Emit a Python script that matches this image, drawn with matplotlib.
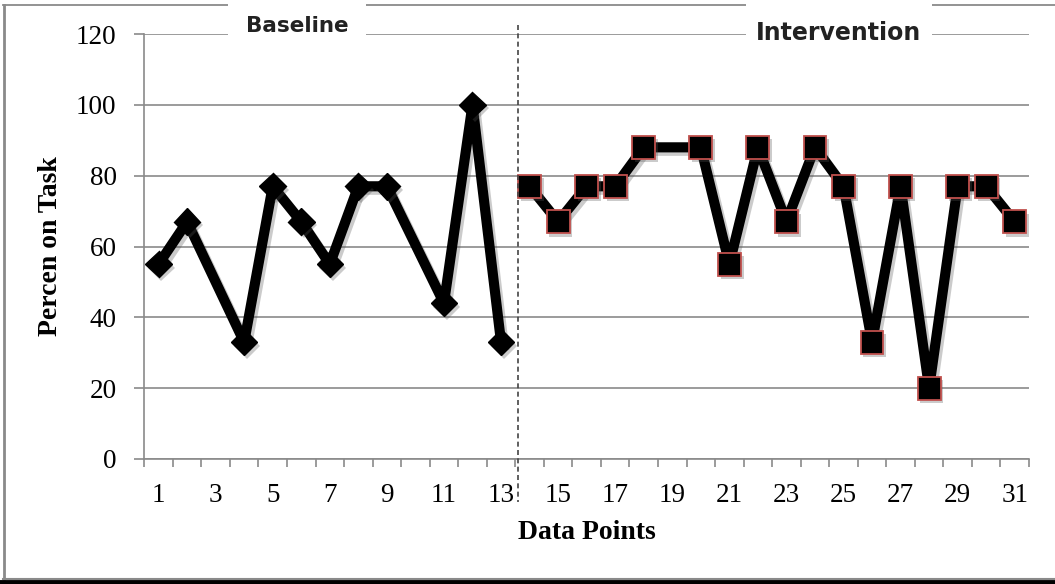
import matplotlib.pyplot as plt
import matplotlib.patheffects as pe
from matplotlib.lines import Line2D
from matplotlib.patches import Rectangle
from matplotlib.transforms import blended_transform_factory

# session numbers and percent of intervals on task
baseline_sessions = [1, 2, 4, 5, 6, 7, 8, 9, 11, 12, 13]
baseline_pct = [55, 67, 33, 77, 67, 55, 77, 77, 44, 100, 33]
intervention_sessions = [14, 15, 16, 17, 18, 20, 21, 22, 23, 24, 25, 26, 27, 28, 29, 30, 31]
intervention_pct = [77, 67, 77, 77, 88, 88, 55, 88, 67, 88, 77, 33, 77, 20, 77, 77, 67]

n_points = 31
x_labels = list(range(1, n_points + 1, 2))
y_ticks = [0, 20, 40, 60, 80, 100, 120]
phase_change = 13.58
phase_names = ['Baseline', 'Intervention']

W, H = 1055, 584
GREY = '#8a8a8a'


def fig_xy(x, y):
    # pixel position (from top-left) -> figure fraction
    return x / W, 1 - y / H


fig = plt.figure(figsize=(W / 100, H / 100), dpi=100)
ax = fig.add_axes([144.3 / W, 1 - 459 / H, (1029 - 144.3) / W, (459 - 34) / H])

ax.set_xlim(0.5, n_points + 0.5)
ax.set_ylim(0, 120)

# gridlines and axes
ax.set_yticks(y_ticks)
ax.yaxis.grid(True, color=GREY, lw=1.2)
ax.set_axisbelow(True)
for side in ['top', 'right']:
    ax.spines[side].set_visible(False)
for side in ['left', 'bottom']:
    ax.spines[side].set_color(GREY)
    ax.spines[side].set_linewidth(1.2)

ax.set_xticks(x_labels)
ax.set_xticks([i + 0.5 for i in range(0, n_points + 1)], minor=True)
ax.tick_params(axis='x', which='major', length=0, pad=17)
ax.tick_params(axis='x', which='minor', length=6, width=1.2, color=GREY, direction='out')
ax.tick_params(axis='y', length=7, width=1.2, color=GREY, pad=13)
for lab in ax.get_xticklabels() + ax.get_yticklabels():
    lab.set_fontfamily('Liberation Serif')
    lab.set_fontsize(19.5)

ax.set_xlabel('Data Points', fontfamily='Liberation Serif', fontsize=20, fontweight='bold')
ax.set_ylabel('Percen on Task', fontfamily='Liberation Serif', fontsize=20, fontweight='bold')
ax.xaxis.set_label_coords(0.5, -0.172)
ax.xaxis.label.set_va('center')
ax.yaxis.set_label_coords(-0.106, 0.5)
ax.yaxis.label.set_va('center')

line_shadow = [pe.SimpleLineShadow(offset=(2, -2.5), shadow_color='#555555', alpha=0.3), pe.Normal()]
mark_shadow = [pe.SimplePatchShadow(offset=(2, -2.5), shadow_rgbFace='#555555', alpha=0.3), pe.Normal()]

# baseline phase
ax.plot(baseline_sessions, baseline_pct, color='black', lw=7.3,
        solid_joinstyle='round', zorder=3, path_effects=line_shadow)
ax.plot(baseline_sessions, baseline_pct, ls='none', marker='D', ms=13.5,
        mfc='black', mec='black', zorder=4, path_effects=mark_shadow)

# intervention phase
ax.plot(intervention_sessions, intervention_pct, color='black', lw=7.3,
        solid_joinstyle='round', zorder=3, path_effects=line_shadow)
ax.plot(intervention_sessions, intervention_pct, ls='none', marker='s', ms=16.5,
        mfc='black', mec='#c0504d', mew=1.3, zorder=4, path_effects=mark_shadow)

# phase change line
trans = blended_transform_factory(ax.transData, ax.transAxes)
ax.plot([phase_change, phase_change], [1.021, -0.101], transform=trans,
        color='#444444', lw=1.2, ls=(0, (3, 2)), clip_on=False, zorder=5)

# outer frame
for (x0, y0), (x1, y1), c, lw in [((3.5, 5), (3.5, 579), GREY, 2),
                                   ((3, 5), (1055, 5), GREY, 1.3),
                                   ((3, 578.5), (1055, 578.5), GREY, 1.5),
                                   ((0, 582), (1055, 582), 'black', 3.5)]:
    p0, p1 = fig_xy(x0, y0), fig_xy(x1, y1)
    fig.add_artist(Line2D([p0[0], p1[0]], [p0[1], p1[1]], color=c, lw=lw,
                          transform=fig.transFigure))

# phase labels on white boxes over the top frame
for name, (bx0, bx1), (tx, ty), size in [(phase_names[0], (228, 366), (297, 25.5), 15.5),
                                          (phase_names[1], (746, 932), (839, 32.5), 17)]:
    fx0, fy1 = fig_xy(bx0, 1)
    fx1, fy0 = fig_xy(bx1, 40)
    fig.add_artist(Rectangle((fx0, fy0), fx1 - fx0, fy1 - fy0, transform=fig.transFigure,
                             facecolor='white', edgecolor='none', zorder=6))
    px, py = fig_xy(tx, ty)
    fig.text(px, py, name, ha='center', va='center', fontsize=size,
             fontweight='bold', color='#222222', zorder=7)

fig.savefig('out.png', dpi=100)
